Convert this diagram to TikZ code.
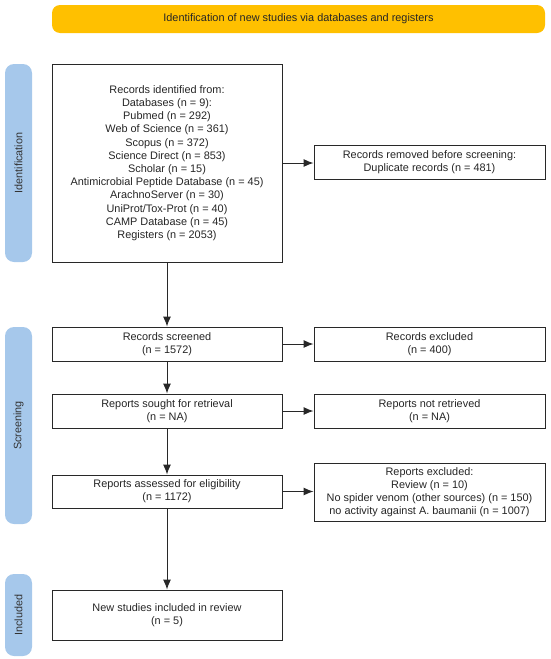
\documentclass[tikz,border=0pt]{standalone}
\usepackage{fontspec}
\setmainfont{Liberation Sans}
\usetikzlibrary{arrows.meta}
\definecolor{banneryellow}{RGB}{255,192,0}
\definecolor{barblue}{RGB}{166,200,235}
\definecolor{linegray}{RGB}{40,40,40}
\tikzset{
  flowbox/.style={draw=linegray, line width=0.9pt, fill=white, inner sep=0pt, align=center,
    font=\fontsize{10.9}{13.2}\selectfont, text=black!85},
  sidebar/.style={fill=barblue, rounded corners=9pt, inner sep=0pt},
  sidelabel/.style={rotate=90, font=\fontsize{10.8}{13}\selectfont, text=black!80},
  flowarrow/.style={draw=linegray, line width=1pt, -{Latex[length=10pt,width=8pt]}},
}
\begin{document}
\begin{tikzpicture}[x=1pt,y=-1pt]
\useasboundingbox (0,0) rectangle (550,659);
% banner
\node[fill=banneryellow, rounded corners=8pt, minimum width=493pt, minimum height=28pt, inner sep=0pt,
  font=\fontsize{10.9}{12}\selectfont, text=black!85] (banner) at (298.5,19) {Identification of new studies via databases and registers};
% side bars
\node[sidebar, minimum width=27pt, minimum height=198pt] (idbar) at (18.5,163) {};
\node[sidelabel] (idlab) at (idbar.center) {Identification};
\node[sidebar, minimum width=27pt, minimum height=197pt] (scrbar) at (18.5,425.5) {};
\node[sidelabel] (scrlab) at (scrbar.center) {Screening};
\node[sidebar, minimum width=27pt, minimum height=82pt] (incbar) at (18.5,615) {};
\node[sidelabel] (inclab) at (incbar.center) {Included};
% boxes
\node[flowbox, minimum width=230pt, minimum height=198pt] (ident) at (167,163) {Records identified from:\\Databases (n = 9):\\Pubmed (n = 292)\\Web of Science (n = 361)\\Scopus (n = 372)\\Science Direct (n = 853)\\Scholar (n = 15)\\Antimicrobial Peptide Database (n = 45)\\ArachnoServer (n = 30)\\UniProt/Tox-Prot (n = 40)\\CAMP Database (n = 45)\\Registers (n = 2053)};
\node[flowbox, minimum width=231pt, minimum height=34pt] (removed) at (429.5,162) {Records removed before screening:\\Duplicate records (n = 481)};
\node[flowbox, minimum width=230pt, minimum height=34pt] (screened) at (167,344) {Records screened\\(n = 1572)};
\node[flowbox, minimum width=231pt, minimum height=34pt] (excluded) at (429.5,344) {Records excluded\\(n = 400)};
\node[flowbox, minimum width=230pt, minimum height=34pt] (sought) at (167,411) {Reports sought for retrieval\\(n = NA)};
\node[flowbox, minimum width=231pt, minimum height=34pt] (notret) at (429.5,411) {Reports not retrieved\\(n = NA)};
\node[flowbox, minimum width=230pt, minimum height=33pt] (assessed) at (167,491.5) {Reports assessed for eligibility\\(n = 1172)};
\node[flowbox, minimum width=231pt, minimum height=58pt] (rexcl) at (429.5,492) {Reports excluded:\\Review (n = 10)\\No spider venom (other sources) (n = 150)\\no activity against A. baumanii (n = 1007)};
\node[flowbox, minimum width=230pt, minimum height=50pt] (included) at (167,615) {New studies included in review\\(n = 5)};
% arrows
\draw[flowarrow] (ident.south) -- (screened.north);
\draw[flowarrow] (screened.south) -- (sought.north);
\draw[flowarrow] (sought.south) -- (assessed.north);
\draw[flowarrow] (assessed.south) -- (included.north);
\draw[flowarrow] (ident.east) -- (ident.east -| removed.west);
\draw[flowarrow] (screened.east) -- (excluded.west);
\draw[flowarrow] (sought.east) -- (notret.west);
\draw[flowarrow] (assessed.east) -- (assessed.east -| rexcl.west);
\end{tikzpicture}
\end{document}
